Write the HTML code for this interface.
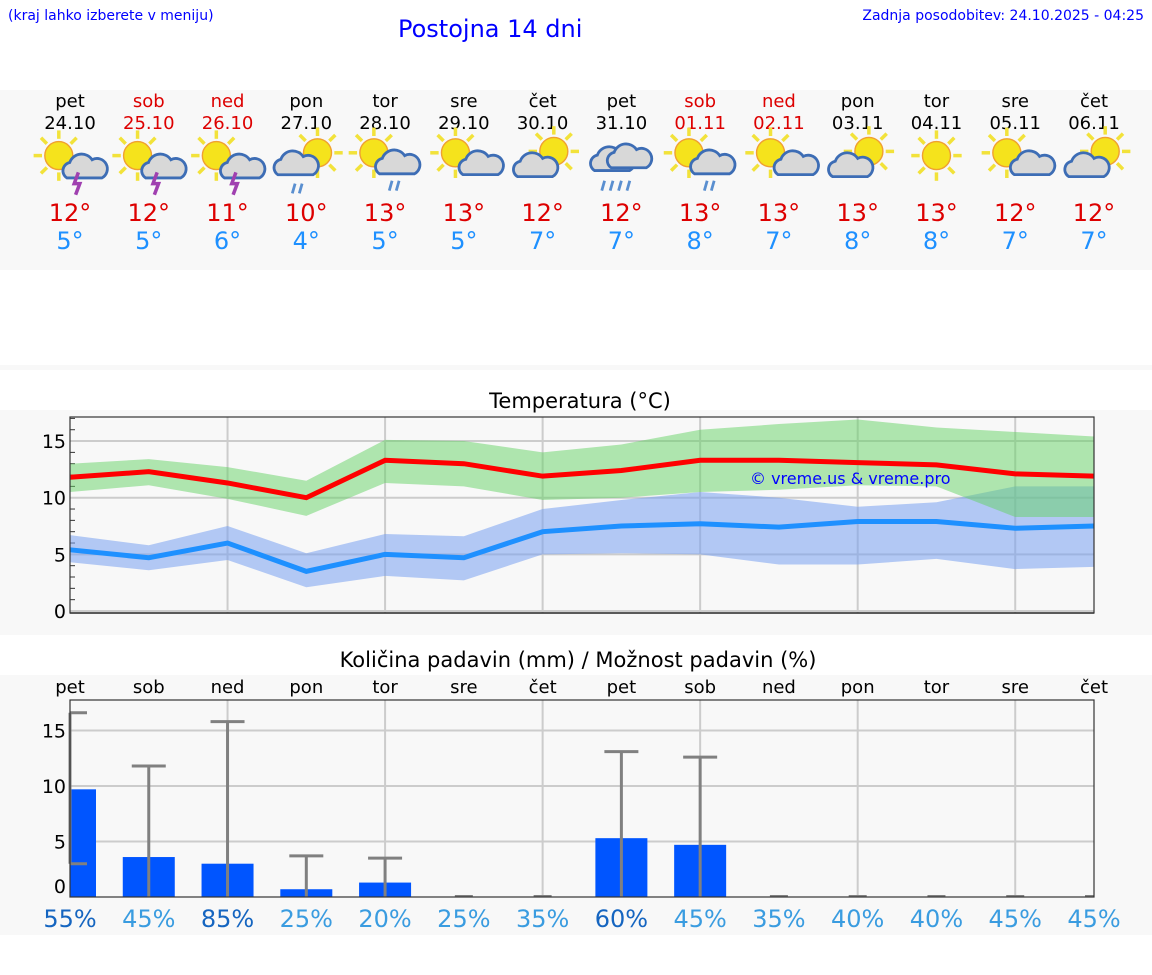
<!DOCTYPE html>
<html><head><meta charset="utf-8">
<style>
body{margin:0;width:1152px;height:975px;background:#fff;font-family:"DejaVu Sans","Liberation Sans",sans-serif;position:relative;overflow:hidden}
.abs{position:absolute}
</style></head><body>
<div class="abs" style="left:8px;top:8px;font-size:14px;color:#00f">(kraj lahko izberete v meniju)</div>
<div class="abs" style="left:398px;top:15px;font-size:24px;color:#00f">Postojna 14 dni</div>
<div class="abs" style="right:8px;top:8px;font-size:14px;color:#00f">Zadnja posodobitev: 24.10.2025 - 04:25</div>
<div class="abs" style="left:0;top:90px;width:1152px;height:180px;background:#f8f8f8"></div>
<div class="abs" style="left:0;top:365px;width:1152px;height:5px;background:#f8f8f8"></div>
<svg class="abs" style="left:0;top:0" width="1152" height="975" id="svg"></svg>
<script>
const days=["pet","sob","ned","pon","tor","sre","čet","pet","sob","ned","pon","tor","sre","čet"];
const dates=["24.10","25.10","26.10","27.10","28.10","29.10","30.10","31.10","01.11","02.11","03.11","04.11","05.11","06.11"];
const weekend=[0,1,1,0,0,0,0,0,1,1,0,0,0,0];
const icons=["storm","storm","storm","cloudrain","sunrain","suncloud","cloudsun","rain","sunrain","suncloud","cloudsun","sun","suncloud","cloudsun"];
const hiDay=[12,12,11,10,13,13,12,12,13,13,13,13,12,12];
const loDay=[5,5,6,4,5,5,7,7,8,7,8,8,7,7];
const tMax=[11.8,12.3,11.3,10.0,13.3,13.0,11.9,12.4,13.3,13.3,13.1,12.9,12.1,11.9];
const tMaxHi=[13.0,13.4,12.7,11.5,15.1,15.0,14.0,14.7,16.0,16.5,16.9,16.2,15.8,15.4];
const tMaxLo=[10.5,11.1,9.9,8.4,11.3,11.0,9.8,10.0,10.5,10.7,11.1,11.0,8.3,8.3];
const tMin=[5.4,4.7,6.0,3.5,5.0,4.7,7.0,7.5,7.7,7.4,7.9,7.9,7.3,7.5];
const tMinHi=[6.7,5.8,7.5,5.1,6.8,6.6,9.0,9.8,10.5,10.0,9.2,9.6,11.0,11.0];
const tMinLo=[4.3,3.6,4.5,2.1,3.1,2.7,5.0,5.1,5.0,4.1,4.1,4.6,3.7,3.9];
const precip=[9.7,3.6,3.0,0.7,1.3,0,0,5.3,4.7,0,0,0,0,0];
const errHi=[16.6,11.8,15.8,3.7,3.5,0,0,13.1,12.6,0,0,0,0,0];
const errLo=[3.0,0,0,0,0,0,0,0,0,0,0,0,0,0];
const prob=[55,45,85,25,20,25,35,60,45,35,40,40,45,45];
const tTicks=[0,5,10,15];
const pTicks=[0,5,10,15];

const svg=document.getElementById('svg');const NS="http://www.w3.org/2000/svg";
function mk(t,a,p){const e=document.createElementNS(NS,t);for(const k in a)e.setAttribute(k,a[k]);(p||svg).appendChild(e);return e;}
const X0=70,X1=1094;
const xd=i=>X0+i*(X1-X0)/13;
const ty=v=>611-v*11.33;
const py=v=>897-v*11.1;

days.forEach((d,i)=>{
 const c=weekend[i]?"#d00":"#000";
 let e=mk('text',{x:xd(i),y:107,'text-anchor':'middle','font-size':18,fill:c});e.textContent=d;
 
 e=mk('text',{x:xd(i),y:129,'text-anchor':'middle','font-size':18,fill:c});e.textContent=dates[i];
 
 e=mk('text',{x:xd(i),y:221,'text-anchor':'middle','font-size':24,fill:'#d00'});e.textContent=hiDay[i]+"°";
 
 e=mk('text',{x:xd(i),y:249,'text-anchor':'middle','font-size':24,fill:'#1e90ff'});e.textContent=loDay[i]+"°";
 
 const g=mk('g',{transform:`translate(${xd(i)},164) scale(1.4)`});
 
 const t=icons[i];
 const sun=(cx,cy,r)=>{for(let k=0;k<8;k++){const a=k*Math.PI/4;mk('line',{x1:cx+Math.cos(a)*(r+2),y1:cy+Math.sin(a)*(r+2),x2:cx+Math.cos(a)*(r+8),y2:cy+Math.sin(a)*(r+8),stroke:'#f2e23a','stroke-width':2.5},g);}mk('circle',{cx,cy,r,fill:'#f5e31c',stroke:'#f0a030','stroke-width':1},g);};
 const cloud=(cx,cy,s)=>{mk('path',{d:`M${cx-12*s},${cy+7*s} a6 6 0 0 1 2,-11 a9 9 0 0 1 16,-2 a7 7 0 0 1 7,13 z`,fill:'#d8d8d8',stroke:'#3d6db5','stroke-width':2},g);};
 if(t==='storm'){sun(-8,-6,10);cloud(8,4,0.85);mk('path',{d:'M6,6 l-3,8 h4 l-3,8',stroke:'#a040b0','stroke-width':2.5,fill:'none'},g);}
 else if(t==='cloudrain'){sun(8,-8,10);cloud(-7,0,1.1);mk('path',{d:'M-8,14 l-2,7 M-3,14 l-2,7',stroke:'#5a8fd0','stroke-width':2},g);}
 else if(t==='sunrain'){sun(-8,-8,10);cloud(8,0,1);mk('path',{d:'M5,12 l-2,7 M10,12 l-2,7',stroke:'#5a8fd0','stroke-width':2},g);}
 else if(t==='suncloud'){sun(-6,-8,10);cloud(9,2,0.8);}
 else if(t==='cloudsun'){sun(8,-9,10);cloud(-6,2,1);}
 else if(t==='sun'){sun(0,-6,10);}
 else {cloud(-6,-3,1.1);cloud(6,-5,1.1);mk('path',{d:'M-12,12 l-2,7 M-6,12 l-2,7 M0,12 l-2,7 M6,12 l-2,7',stroke:'#5a8fd0','stroke-width':2},g);}
});

mk('rect',{x:0,y:410,width:1152,height:225,fill:'#f8f8f8'});
let e=mk('text',{x:580,y:408,'text-anchor':'middle','font-size':21,fill:'#000'});e.textContent="Temperatura (°C)";

for(let v=1;v<=17;v++)mk('line',{x1:X0,x2:X0+5,y1:ty(v),y2:ty(v),stroke:'#333','stroke-width':1});
tTicks.forEach(v=>{mk('line',{x1:X0,x2:X1,y1:ty(v),y2:ty(v),stroke:'#ccc','stroke-width':2});
 const t=mk('text',{x:X0-4,y:ty(v)+7,'text-anchor':'end','font-size':19,fill:'#000'});t.textContent=v;
 });
for(let i=2;i<13;i+=2)mk('line',{x1:xd(i),x2:xd(i),y1:417,y2:613,stroke:'#ccc','stroke-width':2});
function band(hi,lo,fill,name){let d="M"+hi.map((v,i)=>xd(i)+","+ty(v)).join(" L")+" L"+lo.map((v,i)=>xd(i)+","+ty(v)).reverse().join(" L")+"Z";
 const p=mk('path',{d,fill});}
band(tMinHi,tMinLo,'rgba(120,160,240,0.55)','min-temp-band');
band(tMaxHi,tMaxLo,'rgba(100,210,100,0.5)','max-temp-band');
function line(arr,c,name){const p=mk('polyline',{points:arr.map((v,i)=>xd(i)+","+ty(v)).join(" "),fill:'none',stroke:c,'stroke-width':5});
 }
line(tMax,'#ff0000','max-temp-line');line(tMin,'#1e90ff','min-temp-line');
mk('rect',{x:X0,y:417,width:X1-X0,height:196,fill:'none',stroke:'#333','stroke-width':1.2});
mk('line',{x1:X0,x2:X1,y1:613,y2:613,stroke:'#333','stroke-width':1.5});
e=mk('text',{x:750,y:484,'font-size':16,fill:'#00f'});e.textContent="© vreme.us & vreme.pro";


mk('rect',{x:0,y:675,width:1152,height:260,fill:'#f8f8f8'});
e=mk('text',{x:578,y:667,'text-anchor':'middle','font-size':21,fill:'#000'});e.textContent="Količina padavin (mm) / Možnost padavin (%)";

days.forEach((d,i)=>{const t=mk('text',{x:xd(i),y:693,'text-anchor':'middle','font-size':18,fill:'#000'});t.textContent=d;
 });
pTicks.forEach(v=>{if(v>0)mk('line',{x1:X0,x2:X1,y1:py(v),y2:py(v),stroke:'#ccc','stroke-width':2});
 const t=mk('text',{x:X0-4,y:py(v)+(v===0?-4:7),'text-anchor':'end','font-size':19,fill:'#000'});t.textContent=v;
 });
for(let i=2;i<13;i+=2)mk('line',{x1:xd(i),x2:xd(i),y1:700,y2:897,stroke:'#ccc','stroke-width':2});
svg.appendChild(document.createElementNS(NS,'defs')).innerHTML='<clipPath id="pc"><rect x="70" y="700" width="1024" height="197"/></clipPath>';
const pg=mk('g',{'clip-path':'url(#pc)'});
precip.forEach((v,i)=>{if(v>0){const b=mk('rect',{x:xd(i)-26,y:py(v),width:52,height:897-py(v),fill:'#0055ff'},pg);
 }});
errHi.forEach((v,i)=>{const x=xd(i);
 if(v>0){mk('line',{x1:x,x2:x,y1:py(v),y2:py(errLo[i]),stroke:'#808080','stroke-width':3});
 mk('line',{x1:x-17,x2:x+17,y1:py(v),y2:py(v),stroke:'#808080','stroke-width':3},pg);
 if(errLo[i]>0)mk('line',{x1:x-17,x2:x+17,y1:py(errLo[i]),y2:py(errLo[i]),stroke:'#808080','stroke-width':3},pg);}
 else mk('line',{x1:x-9,x2:x+9,y1:896,y2:896,stroke:'#808080','stroke-width':2},pg);});
mk('rect',{x:X0,y:700,width:X1-X0,height:197,fill:'none',stroke:'#333','stroke-width':1.2});
prob.forEach((v,i)=>{const t=mk('text',{x:xd(i),y:927,'text-anchor':'middle','font-size':24,fill:v>=50?'#1565c0':'#3a9ce0'});t.textContent=v+"%";
 });
</script>
</body></html>
